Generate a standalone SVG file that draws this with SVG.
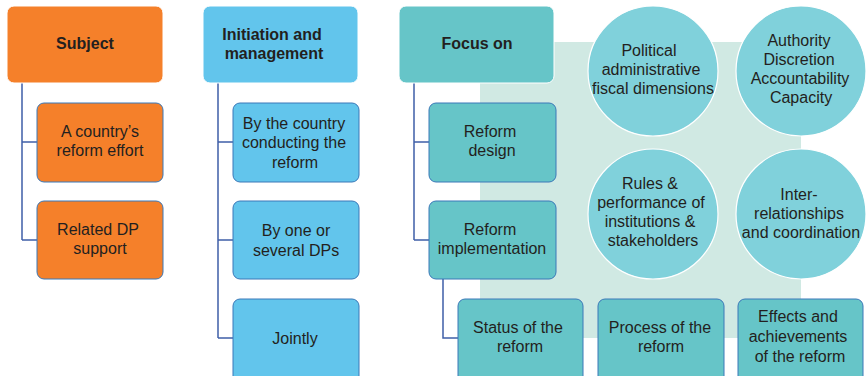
<svg xmlns="http://www.w3.org/2000/svg" width="866" height="376" viewBox="0 0 866 376">
<style>
text{font-family:"Liberation Sans",Arial,sans-serif;font-size:16px;fill:#231f20;text-anchor:middle}
.h{font-weight:bold}
.hd{stroke:#ffffff;stroke-width:1}
.ch{stroke:#3a78b8;stroke-width:1}
.or{fill:#f5802a}
.bl{fill:#62c5ec}
.tl{fill:#66c5c8}
.ci{fill:#80d1db;stroke:#ffffff;stroke-width:1.2}
.ln{fill:none;stroke:#3f5fa8;stroke-width:1.5}
</style>
<rect x="480" y="42" width="321" height="296" fill="#d0e9e3"/>
<g id="connectors">
<path class="ln" d="M22 83V240M22 142H37M22 240H37"/>
<path class="ln" d="M218 83V338M218 142H233M218 240H233M218 338H233"/>
<path class="ln" d="M414 83V240M414 142H429M414 240H429"/>
<path class="ln" d="M443 279V338H458"/>
</g>
<g id="subject"><rect class="or hd" x="7" y="6" width="156" height="77" rx="7"/><text class="h" x="85" y="49">Subject</text></g>
<g id="country-effort"><rect class="or ch" x="37" y="103" width="126" height="79" rx="7"/><text x="100" y="137">A country’s</text><text x="100" y="156">reform effort</text></g>
<g id="dp-support"><rect class="or ch" x="37" y="201" width="126" height="78" rx="7"/><text x="98" y="235">Related DP</text><text x="100" y="254">support</text></g>
<g id="initiation"><rect class="bl hd" x="203" y="6" width="155" height="77" rx="7"/><text class="h" x="272" y="40">Initiation and</text><text class="h" x="274" y="59">management</text></g>
<g id="by-country"><rect class="bl ch" x="233" y="103" width="126" height="79" rx="7"/><text x="294" y="129">By the country</text><text x="294" y="148">conducting the</text><text x="295" y="168">reform</text></g>
<g id="by-dps"><rect class="bl ch" x="233" y="201" width="126" height="78" rx="7"/><text x="296" y="236">By one or</text><text x="296" y="256">several DPs</text></g>
<g id="jointly"><rect class="bl ch" x="233" y="299" width="126" height="85" rx="7"/><text x="295" y="344">Jointly</text></g>
<g id="focus"><rect class="tl hd" x="399" y="6" width="155" height="77" rx="7"/><text class="h" x="477" y="49">Focus on</text></g>
<g id="reform-design"><rect class="tl ch" x="429" y="103" width="127" height="79" rx="7"/><text x="490" y="137">Reform</text><text x="492" y="156">design</text></g>
<g id="reform-impl"><rect class="tl ch" x="429" y="201" width="127" height="78" rx="7"/><text x="490" y="235">Reform</text><text x="492" y="254">implementation</text></g>
<g id="status"><rect class="tl ch" x="458" y="299" width="125" height="85" rx="7"/><text x="518" y="333">Status of the</text><text x="520" y="352">reform</text></g>
<g id="process"><rect class="tl ch" x="598" y="299" width="126" height="85" rx="7"/><text x="660" y="333">Process of the</text><text x="661" y="352">reform</text></g>
<g id="effects"><rect class="tl ch" x="738" y="299" width="125" height="85" rx="7"/><text x="798" y="322">Effects and</text><text x="798" y="342">achievements</text><text x="800" y="362">of the reform</text></g>
<g id="political"><circle class="ci" cx="653" cy="71" r="65"/><text x="649" y="56">Political</text><text x="651" y="75">administrative</text><text x="653" y="94">fiscal dimensions</text></g>
<g id="authority"><circle class="ci" cx="801" cy="71" r="65"/><text x="799" y="46">Authority</text><text x="799" y="65">Discretion</text><text x="800" y="84">Accountability</text><text x="801" y="103">Capacity</text></g>
<g id="rules"><circle class="ci" cx="653" cy="214" r="65"/><text x="650" y="189">Rules &amp;</text><text x="651" y="208">performance of</text><text x="650" y="227">institutions &amp;</text><text x="653" y="246">stakeholders</text></g>
<g id="inter"><circle class="ci" cx="801" cy="214" r="65"/><text x="799" y="200">Inter-</text><text x="799" y="219">relationships</text><text x="801" y="238">and coordination</text></g>
</svg>
